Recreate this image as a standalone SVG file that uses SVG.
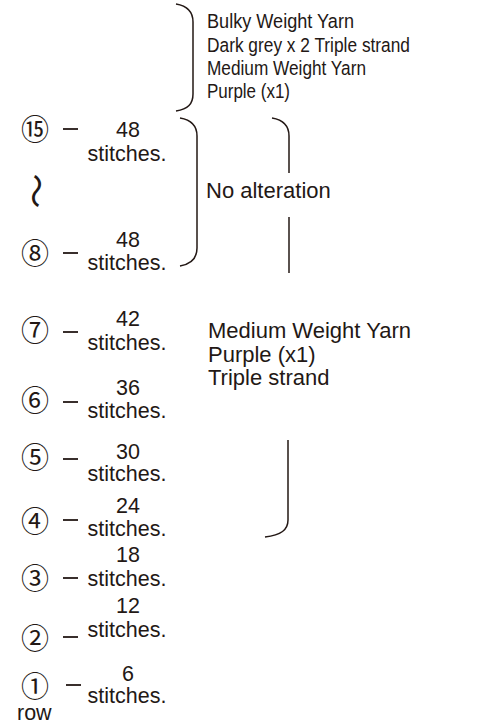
<svg xmlns="http://www.w3.org/2000/svg" width="497" height="725" viewBox="0 0 497 725">
<style>
text{font-family:"Liberation Sans",Arial,sans-serif;font-size:21.5px;fill:#231815}
.t{font-size:20.5px}
.g{font-size:22px}
.c{font-family:"Noto Sans CJK JP",sans-serif;font-size:28px;text-anchor:middle}
.m{text-anchor:middle}
.br{fill:none;stroke:#231815;stroke-width:1.5}
.d{stroke:#231815;stroke-width:1.8}
</style>
<rect width="497" height="725" fill="#fff"/>
<g id="connectors">
<path class="br" d="M176,4 C188,6 193,12 193,22 L193,94 C193,104 188,109 176,111"/>
<path class="br" d="M180,118 C192,120 197,126 197,136 L197,248 C197,258 192,264 180,266"/>
<path class="br" d="M272,118 C284,120 289,126 289,136 L289,173"/>
<path class="br" d="M289,217 L289,273"/>
<path class="br" d="M288,440 L288,520 C288,530 281,535 265,537"/>
</g>
<g id="note-top">
<text class="t" x="207" y="28" textLength="147" lengthAdjust="spacingAndGlyphs">Bulky Weight Yarn</text>
<text class="t" x="207" y="52" textLength="203" lengthAdjust="spacingAndGlyphs">Dark grey x 2 Triple strand</text>
<text class="t" x="207" y="75" textLength="159" lengthAdjust="spacingAndGlyphs">Medium Weight Yarn</text>
<text class="t" x="207" y="98" textLength="83" lengthAdjust="spacingAndGlyphs">Purple (x1)</text>
</g>
<g id="note-noalt"><text class="g" x="206" y="198">No alteration</text></g>
<g id="note-medium">
<text class="g" x="208" y="338">Medium Weight Yarn</text>
<text class="g" x="208" y="362">Purple (x1)</text>
<text class="g" x="208" y="385">Triple strand</text>
</g>
<g id="row15">
<text class="c" x="35" y="139.5">⑮</text><line class="d" x1="63" y1="129" x2="78" y2="129"/>
<text class="m" x="128" y="137">48</text><text class="m" x="127" y="161">stitches.</text>
</g>
<g id="ellipsis"><text class="c" x="0" y="0" transform="translate(35,191) rotate(90) translate(0,12)" style="font-size:35px">〜</text></g>
<g id="row8">
<text class="c" x="35" y="263.5">⑧</text><line class="d" x1="63" y1="253" x2="78" y2="253"/>
<text class="m" x="128" y="247">48</text><text class="m" x="127" y="270">stitches.</text>
</g>
<g id="row7">
<text class="c" x="35" y="340.5">⑦</text><line class="d" x1="63" y1="332" x2="78" y2="332"/>
<text class="m" x="128" y="326">42</text><text class="m" x="127" y="350">stitches.</text>
</g>
<g id="row6">
<text class="c" x="35" y="410.5">⑥</text><line class="d" x1="63" y1="402" x2="78" y2="402"/>
<text class="m" x="128" y="395">36</text><text class="m" x="127" y="418">stitches.</text>
</g>
<g id="row5">
<text class="c" x="35" y="467.5">⑤</text><line class="d" x1="63" y1="459" x2="78" y2="459"/>
<text class="m" x="128" y="459">30</text><text class="m" x="127" y="481">stitches.</text>
</g>
<g id="row4">
<text class="c" x="35" y="531.5">④</text><line class="d" x1="63" y1="520" x2="78" y2="520"/>
<text class="m" x="128" y="513">24</text><text class="m" x="127" y="536">stitches.</text>
</g>
<g id="row3">
<text class="c" x="35" y="588.5">③</text><line class="d" x1="63" y1="578" x2="78" y2="578"/>
<text class="m" x="128" y="562">18</text><text class="m" x="127" y="586">stitches.</text>
</g>
<g id="row2">
<text class="c" x="35" y="648.5">②</text><line class="d" x1="63" y1="637" x2="78" y2="637"/>
<text class="m" x="128" y="613">12</text><text class="m" x="127" y="637">stitches.</text>
</g>
<g id="row1">
<text class="c" x="35" y="697">①</text><line class="d" x1="66" y1="685" x2="81" y2="685"/>
<text class="m" x="128" y="681">6</text><text class="m" x="127" y="703">stitches.</text>
</g>
<g id="label-row"><text x="17" y="720">row</text></g>
</svg>
